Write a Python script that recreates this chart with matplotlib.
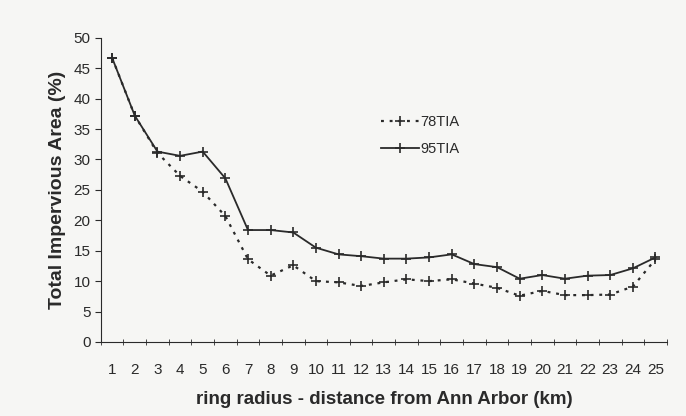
import numpy as np
import matplotlib.pyplot as plt

# Data arrays
rings = list(range(1, 26))
tia78 = [46.7, 37.2, 31.1, 27.3, 24.7, 20.7, 13.6, 10.9, 12.6, 10.0, 9.8, 9.2, 9.8,
         10.3, 10.0, 10.3, 9.6, 8.9, 7.6, 8.4, 7.7, 7.7, 7.8, 9.1, 13.6]
tia95 = [46.7, 37.2, 31.3, 30.6, 31.3, 26.9, 18.4, 18.4, 18.0, 15.5, 14.4, 14.1, 13.7,
         13.7, 13.9, 14.4, 12.8, 12.3, 10.4, 11.0, 10.4, 10.9, 11.0, 12.1, 13.9]

plt.rcParams['font.family'] = ['Liberation Sans', 'DejaVu Sans']

bg = '#f6f6f4'
ink = '#2a2a2a'

fig = plt.figure(figsize=(6.86, 4.16), dpi=100, facecolor=bg)
ax = fig.add_axes([0.147, 0.178, 0.825, 0.731], facecolor=bg)

ax.plot(rings, tia78, linestyle=(0, (1.3, 2.6)), color=ink, lw=1.6,
        marker='+', ms=7.5, mew=1.2, label='78TIA')
ax.plot(rings, tia95, linestyle='-', color=ink, lw=1.3,
        marker='+', ms=7.5, mew=1.2, label='95TIA')

ax.set_xlim(0.5, 25.5)
ax.set_ylim(0, 50)
ax.set_yticks(np.arange(0, 51, 5))
ax.set_xticks(rings)
ax.set_xticks(np.arange(0.5, 26, 1), minor=True)
ax.tick_params(axis='x', which='major', length=0, pad=15, labelsize=11, colors=ink)
ax.tick_params(axis='x', which='minor', length=4, direction='inout', color=ink)
ax.tick_params(axis='y', length=4, direction='out', labelsize=11, colors=ink)

for s in ['top', 'right']:
    ax.spines[s].set_visible(False)
for s in ['left', 'bottom']:
    ax.spines[s].set_color(ink)

ax.set_xlabel('ring radius - distance from Ann Arbor (km)', fontsize=13.5,
              fontweight='bold', color=ink, labelpad=10)
ax.set_ylabel('Total Impervious Area (%)', fontsize=14,
              fontweight='bold', color=ink, labelpad=5)

ax.legend(loc='upper left', bbox_to_anchor=(0.472, 0.79), frameon=False,
          fontsize=10.5, handlelength=2.6, handletextpad=0.1, labelspacing=0.9,
          labelcolor=ink)

plt.savefig('out.png', dpi=100, facecolor=bg)
